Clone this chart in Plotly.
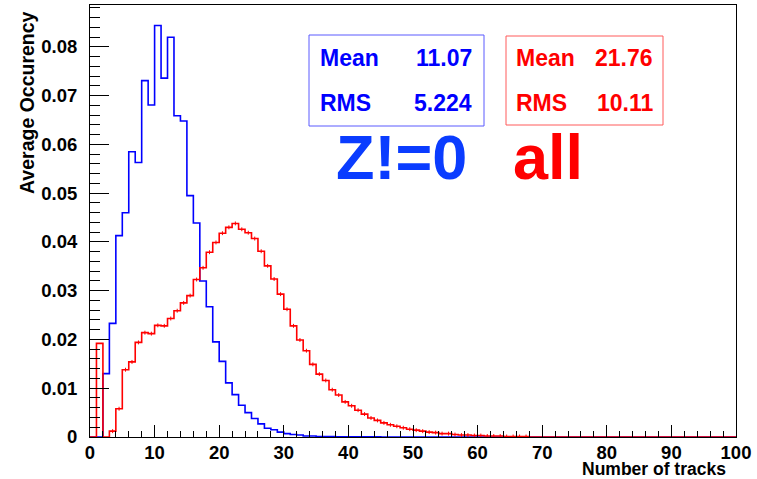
import plotly.graph_objects as go

# ---------------- data ----------------
bin_edges_start = 0
bin_width = 1
n_bins = 100

blue_values = [
    0, 0, 0.0130, 0.0233, 0.0413, 0.0460, 0.0585, 0.0563, 0.0731, 0.0681,
    0.0844, 0.0736, 0.0820, 0.0659, 0.0648, 0.0495, 0.0439, 0.0320, 0.0267, 0.0195,
    0.0155, 0.0111, 0.0087, 0.0065, 0.0050, 0.0038, 0.0027, 0.0018, 0.0015, 0.0010,
    0.0007, 0.0005, 0.0004, 0.0002, 0.0002, 0.0001, 0.0001, 0.0001, 0.00005, 0.00005,
    0.00005, 0.00005, 0.00005, 0.00005, 0.00005, 0, 0, 0, 0, 0,
    0, 0, 0, 0, 0, 0, 0, 0, 0, 0,
    0, 0, 0, 0, 0, 0, 0, 0, 0, 0,
    0, 0, 0, 0, 0, 0, 0, 0, 0, 0,
    0, 0, 0, 0, 0, 0, 0, 0, 0, 0,
    0, 0, 0, 0, 0, 0, 0, 0, 0, 0,
]

red_values = [
    0, 0.0192, 0, 0.0012, 0.0058, 0.0138, 0.0154, 0.0194, 0.0214, 0.0212,
    0.0229, 0.0228, 0.0243, 0.0259, 0.0275, 0.0290, 0.0323, 0.0347, 0.0379, 0.0399,
    0.0418, 0.0430, 0.0438, 0.0426, 0.0419, 0.0407, 0.0381, 0.0351, 0.0324, 0.0293,
    0.0262, 0.0228, 0.0199, 0.0177, 0.0149, 0.0129, 0.0116, 0.0097, 0.0086, 0.0072,
    0.0064, 0.0055, 0.0047, 0.0039, 0.0034, 0.0029, 0.0025, 0.0022, 0.0019, 0.0016,
    0.0014, 0.0012, 0.0010, 0.0009, 0.0007, 0.0007, 0.0005, 0.0004, 0.0004, 0.0003,
    0.0003, 0.0002, 0.0002, 0.0002, 0.0001, 0.0001, 0.0001, 0.0001, 0, 0,
    0, 0, 0, 0, 0, 0, 0, 0, 0, 0,
    0, 0, 0, 0, 0, 0, 0, 0, 0, 0,
    0, 0, 0, 0, 0, 0, 0, 0, 0, 0,
]
red_error = 0.0004

blue_stats = [("Mean", "11.07"), ("RMS", "5.224")]
red_stats = [("Mean", "21.76"), ("RMS", "10.11")]
blue_label = "Z!=0"
red_label = "all"

x_title = "Number of tracks"
y_title = "Average Occurency"
x_range = [0, 100]
y_range = [0, 0.0886]

# ---------------- figure ----------------
W, H = 757, 479
ML, MR, MT, MB = 90, 21, 5, 42
PW, PH = W - ML - MR, H - MT - MB


def px(x):
    return (x - ML) / PW


def py(y):
    return (H - MB - y) / PH


FONT = "Liberation Sans"
BLUE = "#0000ff"
RED = "#ff0000"

edges = [bin_edges_start + i * bin_width for i in range(n_bins + 1)]
centers = [bin_edges_start + (i + 0.5) * bin_width for i in range(n_bins)]


def step_trace(values, color):
    return go.Scatter(
        x=edges,
        y=list(values) + [values[-1]],
        mode="lines",
        line=dict(color=color, width=1.6, shape="hv"),
        hoverinfo="skip",
        showlegend=False,
    )


fig = go.Figure()
fig.add_trace(step_trace(blue_values, BLUE))
fig.add_trace(step_trace(red_values, RED))

err_x = [c for c, v in zip(centers, red_values) if v > 0 and c > 2.5]
err_y = [v for c, v in zip(centers, red_values) if v > 0 and c > 2.5]
fig.add_trace(go.Scatter(
    x=err_x, y=err_y, mode="markers",
    marker=dict(size=1, color=RED),
    error_y=dict(type="constant", value=red_error, color=RED, thickness=1, width=0),
    hoverinfo="skip", showlegend=False,
))

tickfont = dict(family=FONT, size=18.5, color="black", weight="bold")

fig.update_layout(
    width=W, height=H,
    margin=dict(l=ML, r=MR, t=MT, b=MB, pad=0),
    paper_bgcolor="white", plot_bgcolor="white",
    showlegend=False,
    xaxis=dict(
        range=x_range, dtick=10, tick0=0,
        showgrid=False, zeroline=False,
        showline=True, linecolor="black", linewidth=1, mirror=True,
        ticks="inside", ticklen=12, tickcolor="black", tickwidth=1,
        minor=dict(ticks="inside", ticklen=6, dtick=2, tickcolor="black", tickwidth=1, showgrid=False),
        tickfont=tickfont, ticklabelstandoff=-1,
    ),
    yaxis=dict(
        range=y_range, dtick=0.01, tick0=0,
        showgrid=False, zeroline=False,
        showline=True, linecolor="black", linewidth=1, mirror=True,
        ticks="inside", ticklen=19, tickcolor="black", tickwidth=1,
        minor=dict(ticks="inside", ticklen=10, dtick=0.002, tickcolor="black", tickwidth=1, showgrid=False),
        tickfont=tickfont, ticklabelstandoff=8,
    ),
)

annotations = []
shapes = []

# axis titles
annotations.append(dict(
    text="<b>%s</b>" % y_title, xref="paper", yref="paper",
    x=px(26.5), y=py(9), xanchor="center", yanchor="top",
    textangle=-90, showarrow=False,
    font=dict(family=FONT, size=19.5, color="black"),
))
annotations.append(dict(
    text="<b>%s</b>" % x_title, xref="paper", yref="paper",
    x=px(728), y=py(468.5), xanchor="right", yanchor="middle",
    showarrow=False,
    font=dict(family=FONT, size=17.5, color="black"),
))

# stat boxes
boxes = [
    (blue_stats, BLUE, "#5a5aff", (309, 35, 484, 126), 318, 474),
    (red_stats, RED, "#ff5a5a", (506, 36, 663, 125), 514, 655),
]
row_y = [58, 103]
for stats, color, bcolor, (x0, y0, x1, y1), tl, tr in boxes:
    shapes.append(dict(
        type="rect", xref="paper", yref="paper",
        x0=px(x0), x1=px(x1), y0=py(y1), y1=py(y0),
        line=dict(color=bcolor, width=1), fillcolor="white", layer="above",
    ))
    for (name, val), yy in zip(stats, row_y):
        annotations.append(dict(
            text="<b>%s</b>" % name, xref="paper", yref="paper",
            x=px(tl), y=py(yy), xanchor="left", yanchor="middle",
            showarrow=False, font=dict(family=FONT, size=23, color=color),
        ))
        annotations.append(dict(
            text="<b>%s</b>" % val, xref="paper", yref="paper",
            x=px(tr), y=py(yy), xanchor="right", yanchor="middle",
            showarrow=False, font=dict(family=FONT, size=23, color=color),
        ))

# big labels
annotations.append(dict(
    text="<b>%s</b>" % blue_label, xref="paper", yref="paper",
    x=px(401), y=py(157), xanchor="center", yanchor="middle",
    showarrow=False, font=dict(family=FONT, size=63, color="#0a3cff"),
))
annotations.append(dict(
    text="<b>%s</b>" % red_label, xref="paper", yref="paper",
    x=px(547.5), y=py(157), xanchor="center", yanchor="middle",
    showarrow=False, font=dict(family=FONT, size=63, color=RED),
))

fig.update_layout(annotations=annotations, shapes=shapes)

fig.write_html("out.html")
